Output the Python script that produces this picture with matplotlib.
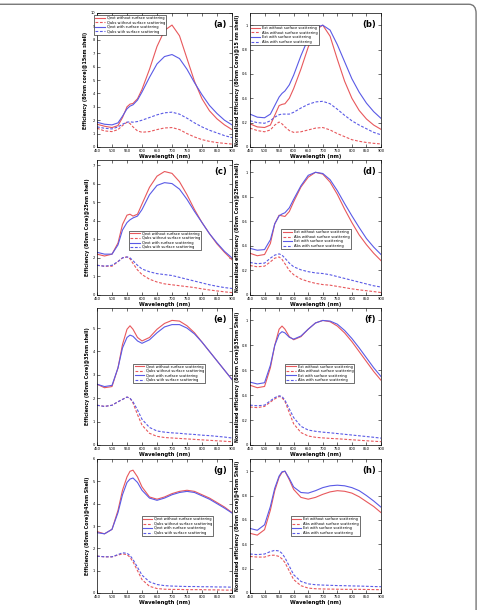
import numpy as np
import matplotlib
matplotlib.use("Agg")
import matplotlib.pyplot as plt
from matplotlib.patches import FancyBboxPatch

## DATA

wl = [450, 475, 500, 520, 535, 550, 560, 570, 585, 600, 625, 650, 675, 700,
      725, 750, 775, 800, 825, 850, 875, 900]

# (a) 80nm core @ 15nm shell
a_ext_wo = [1.7, 1.55, 1.45, 1.6, 2.2, 3.0, 3.2, 3.25, 3.6, 4.3, 5.8, 7.5, 8.7, 9.1,
            8.3, 6.6, 4.9, 3.6, 2.7, 2.1, 1.65, 1.3]
a_abs_wo = [1.4, 1.2, 1.15, 1.3, 1.6, 1.85, 1.75, 1.5, 1.2, 1.1, 1.15, 1.3, 1.42, 1.45,
            1.3, 1.0, 0.75, 0.55, 0.42, 0.33, 0.27, 0.22]
a_ext_w = [1.85, 1.7, 1.65, 1.8, 2.3, 2.85, 3.05, 3.15, 3.5, 4.1, 5.2, 6.2, 6.75, 6.9,
           6.6, 5.8, 4.8, 3.9, 3.1, 2.5, 2.0, 1.65]
a_abs_w = [1.5, 1.4, 1.35, 1.5, 1.7, 1.85, 1.88, 1.85, 1.9, 2.0, 2.2, 2.4, 2.55, 2.6,
           2.45, 2.15, 1.8, 1.5, 1.25, 1.05, 0.85, 0.7]

# (b) normalized, 15nm shell
b_ext_wo = [0.19, 0.165, 0.16, 0.18, 0.26, 0.34, 0.35, 0.355, 0.40, 0.48, 0.64, 0.82, 0.96, 1.0,
            0.91, 0.72, 0.54, 0.40, 0.30, 0.23, 0.18, 0.145]
b_abs_wo = [0.155, 0.135, 0.125, 0.14, 0.18, 0.205, 0.19, 0.165, 0.135, 0.12, 0.125, 0.14, 0.155, 0.16,
            0.14, 0.11, 0.085, 0.06, 0.047, 0.037, 0.03, 0.025]
b_ext_w = [0.27, 0.245, 0.24, 0.27, 0.34, 0.41, 0.44, 0.46, 0.51, 0.59, 0.75, 0.89, 0.98, 1.0,
           0.96, 0.84, 0.70, 0.56, 0.45, 0.36, 0.29, 0.235]
b_abs_w = [0.215, 0.2, 0.195, 0.215, 0.245, 0.265, 0.27, 0.27, 0.27, 0.285, 0.32, 0.35, 0.37, 0.375,
           0.355, 0.31, 0.26, 0.215, 0.18, 0.15, 0.12, 0.1]

# (c) 25nm shell
c_ext_wo = [2.2, 2.1, 2.2, 2.8, 3.8, 4.3, 4.35, 4.25, 4.35, 4.9, 5.8, 6.4, 6.65, 6.55,
            6.1, 5.4, 4.6, 3.9, 3.3, 2.75, 2.3, 1.9]
c_abs_wo = [1.6, 1.55, 1.55, 1.8, 2.0, 2.05, 1.95, 1.7, 1.35, 1.1, 0.85, 0.7, 0.6, 0.55,
            0.5, 0.45, 0.4, 0.33, 0.27, 0.22, 0.17, 0.13]
c_ext_w = [2.3, 2.2, 2.2, 2.7, 3.5, 3.9, 4.05, 4.15, 4.25, 4.6, 5.4, 5.9, 6.05, 6.0,
           5.7, 5.15, 4.5, 3.9, 3.3, 2.8, 2.35, 2.0]
c_abs_w = [1.6, 1.55, 1.6, 1.8, 2.0, 2.05, 2.0, 1.85, 1.6, 1.4, 1.25, 1.15, 1.1, 1.05,
           0.95, 0.85, 0.75, 0.65, 0.55, 0.47, 0.4, 0.35]

# (d) normalized, 25nm shell
d_ext_wo = [0.34, 0.32, 0.33, 0.42, 0.58, 0.65, 0.645, 0.64, 0.68, 0.76, 0.88, 0.96, 1.0, 0.985,
            0.92, 0.82, 0.70, 0.59, 0.49, 0.41, 0.34, 0.28]
d_abs_wo = [0.24, 0.23, 0.235, 0.27, 0.3, 0.31, 0.29, 0.255, 0.2, 0.165, 0.13, 0.11, 0.095, 0.085,
            0.08, 0.07, 0.06, 0.05, 0.042, 0.035, 0.028, 0.02]
d_ext_w = [0.38, 0.365, 0.37, 0.45, 0.58, 0.645, 0.66, 0.67, 0.71, 0.78, 0.89, 0.975, 1.0, 0.99,
           0.94, 0.85, 0.745, 0.645, 0.55, 0.46, 0.39, 0.33]
d_abs_w = [0.265, 0.255, 0.26, 0.3, 0.325, 0.335, 0.325, 0.3, 0.26, 0.23, 0.205, 0.19, 0.18, 0.175,
           0.165, 0.15, 0.135, 0.12, 0.105, 0.09, 0.075, 0.065]

# (e) 35nm shell
e_ext_wo = [2.6, 2.45, 2.5, 3.3, 4.3, 4.95, 5.1, 4.95, 4.6, 4.45, 4.6, 4.95, 5.2, 5.33,
            5.3, 5.1, 4.8, 4.4, 4.0, 3.6, 3.2, 2.8]
e_abs_wo = [1.7, 1.65, 1.7, 1.85, 1.95, 2.05, 2.0, 1.8, 1.3, 0.85, 0.5, 0.37, 0.32, 0.3,
            0.28, 0.26, 0.24, 0.22, 0.2, 0.18, 0.16, 0.14]
e_ext_w = [2.6, 2.5, 2.55, 3.3, 4.15, 4.6, 4.7, 4.65, 4.45, 4.35, 4.5, 4.8, 5.05, 5.15,
           5.15, 5.0, 4.75, 4.4, 4.0, 3.6, 3.2, 2.8]
e_abs_w = [1.7, 1.65, 1.7, 1.85, 1.95, 2.05, 2.0, 1.85, 1.5, 1.1, 0.75, 0.6, 0.55, 0.52,
           0.5, 0.47, 0.45, 0.42, 0.4, 0.37, 0.34, 0.3]

# (f) normalized, 35nm shell
f_ext_wo = [0.48, 0.46, 0.47, 0.62, 0.8, 0.93, 0.955, 0.93, 0.87, 0.845, 0.87, 0.93, 0.98, 1.0,
            0.99, 0.955, 0.9, 0.83, 0.75, 0.67, 0.59, 0.52]
f_abs_wo = [0.305, 0.3, 0.31, 0.345, 0.37, 0.39, 0.38, 0.35, 0.26, 0.17, 0.1, 0.072, 0.062, 0.057,
            0.053, 0.05, 0.046, 0.042, 0.038, 0.034, 0.03, 0.027]
f_ext_w = [0.505, 0.49, 0.5, 0.64, 0.8, 0.89, 0.91, 0.9, 0.865, 0.85, 0.875, 0.93, 0.98, 1.0,
           0.995, 0.97, 0.92, 0.855, 0.78, 0.70, 0.62, 0.55]
f_abs_w = [0.32, 0.315, 0.32, 0.355, 0.38, 0.395, 0.39, 0.36, 0.29, 0.22, 0.15, 0.12, 0.11, 0.103,
           0.098, 0.092, 0.086, 0.08, 0.074, 0.068, 0.062, 0.055]

# (g) 45nm shell
g_ext_wo = [2.75, 2.65, 2.85, 3.7, 4.6, 5.2, 5.45, 5.5, 5.2, 4.75, 4.3, 4.2, 4.3, 4.45,
            4.55, 4.6, 4.55, 4.4, 4.25, 4.05, 3.85, 3.6]
g_abs_wo = [1.65, 1.62, 1.62, 1.7, 1.75, 1.72, 1.6, 1.4, 1.0, 0.6, 0.3, 0.2, 0.17, 0.16,
            0.16, 0.15, 0.15, 0.15, 0.14, 0.14, 0.13, 0.13]
g_ext_w = [2.7, 2.65, 2.85, 3.6, 4.4, 4.95, 5.1, 5.15, 4.95, 4.6, 4.25, 4.15, 4.25, 4.4,
           4.5, 4.55, 4.5, 4.35, 4.2, 4.0, 3.8, 3.58]
g_abs_w = [1.65, 1.62, 1.62, 1.72, 1.8, 1.78, 1.68, 1.5, 1.15, 0.8, 0.5, 0.38, 0.33, 0.31,
           0.3, 0.29, 0.29, 0.28, 0.28, 0.27, 0.27, 0.26]

# (h) normalized, 45nm shell
h_ext_wo = [0.49, 0.475, 0.52, 0.68, 0.84, 0.95, 0.99, 1.0, 0.93, 0.85, 0.785, 0.77, 0.785, 0.81,
            0.83, 0.84, 0.835, 0.82, 0.79, 0.75, 0.71, 0.66]
h_abs_wo = [0.3, 0.295, 0.295, 0.31, 0.31, 0.3, 0.28, 0.25, 0.18, 0.11, 0.06, 0.04, 0.035, 0.033,
            0.032, 0.031, 0.03, 0.03, 0.03, 0.029, 0.028, 0.027]
h_ext_w = [0.53, 0.515, 0.56, 0.71, 0.86, 0.96, 0.995, 1.0, 0.94, 0.87, 0.825, 0.82, 0.84, 0.865,
           0.88, 0.885, 0.88, 0.865, 0.84, 0.8, 0.755, 0.705]
h_abs_w = [0.32, 0.315, 0.32, 0.34, 0.35, 0.345, 0.325, 0.29, 0.22, 0.15, 0.095, 0.075, 0.068, 0.065,
           0.063, 0.061, 0.06, 0.058, 0.057, 0.055, 0.053, 0.052]

q_labels = ["Qext without surface scattering", "Qabs without surface scattering",
            "Qext with surface scattering", "Qabs with surface scattering"]
n_labels = ["Ext without surface scattering", "Abs without surface scattering",
            "Ext with surface scattering", "Abs with surface scattering"]

ylabels = {
	"a": "Efficiency (80nm core)@15nm shell)",
	"b": "Normalized Efficiency (80nm Core)@15 nm shell)",
	"c": "Efficiency (80nm Core)@25nm shell)",
	"d": "Normalized efficiency (80nm Core)@25nm shell)",
	"e": "Efficiency (80nm Core)@35nm shell)",
	"f": "Normalized efficiency (80nm Core)@35nm Shell)",
	"g": "Efficiency (80nm Core)@45nm Shell)",
	"h": "Normalized efficiency (80nm Core)@45nm Shell)",
}

RED = "#e8585c"
BLUE = "#5a5ae6"

## PLOT

W, H = 478, 610

def _axes(fig, x0, y0, x1, y1):
	# pixel box (top-left origin) -> figure fraction
	return fig.add_axes([x0 / W, 1 - y1 / H, (x1 - x0) / W, (y1 - y0) / H])

def _panel(ax, tag, series, labels, ymax, yticks, leg_loc, leg_anchor):
	ext_wo, abs_wo, ext_w, abs_w = series
	ax.plot(wl, ext_wo, "-", color = RED, lw = 0.8, label = labels[0])
	ax.plot(wl, abs_wo, "--", color = RED, lw = 0.8, dashes = (2.5, 1.5), label = labels[1])
	ax.plot(wl, ext_w, "-", color = BLUE, lw = 0.8, label = labels[2])
	ax.plot(wl, abs_w, "--", color = BLUE, lw = 0.8, dashes = (2.5, 1.5), label = labels[3])

	ax.set_xlim(450, 900)
	ax.set_ylim(0, ymax)
	ax.set_xticks(np.arange(450, 901, 50))
	ax.set_yticks(yticks)
	ax.yaxis.set_major_formatter(lambda v, _: f"{v:g}")
	ax.tick_params(direction = "in", top = True, right = True, length = 2, width = 0.4,
		labelsize = 2.6, pad = 1.5)
	for s in ax.spines.values():
		s.set_linewidth(0.5)

	ax.set_xlabel("Wavelength (nm)", fontsize = 3.8, fontweight = "bold", labelpad = 1)
	ax.set_ylabel(ylabels[tag], fontsize = 3.4, fontweight = "bold", labelpad = 1.5)
	ax.text(0.96, 0.95, f"({tag})", transform = ax.transAxes, ha = "right", va = "top",
		fontsize = 6, fontweight = "bold")

	leg = ax.legend(loc = leg_loc, bbox_to_anchor = leg_anchor, fontsize = 2.6,
		frameon = True, fancybox = False, edgecolor = "black", framealpha = 1,
		handlelength = 2.6, handletextpad = 0.5, borderpad = 0.3, labelspacing = 0.15,
		borderaxespad = 0)
	leg.get_frame().set_linewidth(0.4)

if __name__ == "__main__":
	fig = plt.figure(figsize = (W / 100, H / 100), dpi = 100)

	L = (97, 232)
	R = (250, 381)
	rows = [(13, 147), (160, 295), (308, 445), (459, 593)]

	tick_eff_a = np.arange(0, 11, 1)
	tick_norm = [0, 0.2, 0.4, 0.6, 0.8, 1]

	ax = _axes(fig, L[0], rows[0][0], L[1], rows[0][1])
	_panel(ax, "a", (a_ext_wo, a_abs_wo, a_ext_w, a_abs_w), q_labels, 10, tick_eff_a,
		"upper left", (-0.02, 0.985))
	ax = _axes(fig, R[0], rows[0][0], R[1], rows[0][1])
	_panel(ax, "b", (b_ext_wo, b_abs_wo, b_ext_w, b_abs_w), n_labels, 1.1, tick_norm,
		"upper left", (0.0, 0.91))

	ax = _axes(fig, L[0], rows[1][0], L[1], rows[1][1])
	_panel(ax, "c", (c_ext_wo, c_abs_wo, c_ext_w, c_abs_w), q_labels, 7.27, np.arange(0, 8, 1),
		"lower left", (0.24, 0.33))
	ax = _axes(fig, R[0], rows[1][0], R[1], rows[1][1])
	_panel(ax, "d", (d_ext_wo, d_abs_wo, d_ext_w, d_abs_w), n_labels, 1.1, tick_norm,
		"lower left", (0.24, 0.34))

	ax = _axes(fig, L[0], rows[2][0], L[1], rows[2][1])
	_panel(ax, "e", (e_ext_wo, e_abs_wo, e_ext_w, e_abs_w), q_labels, 5.86, np.arange(0, 6, 1),
		"lower left", (0.27, 0.45))
	ax = _axes(fig, R[0], rows[2][0], R[1], rows[2][1])
	_panel(ax, "f", (f_ext_wo, f_abs_wo, f_ext_w, f_abs_w), n_labels, 1.1, tick_norm,
		"lower left", (0.27, 0.45))

	ax = _axes(fig, L[0], rows[3][0], L[1], rows[3][1])
	_panel(ax, "g", (g_ext_wo, g_abs_wo, g_ext_w, g_abs_w), q_labels, 6, np.arange(0, 7, 1),
		"lower left", (0.33, 0.425))
	ax = _axes(fig, R[0], rows[3][0], R[1], rows[3][1])
	_panel(ax, "h", (h_ext_wo, h_abs_wo, h_ext_w, h_abs_w), n_labels, 1.1, tick_norm,
		"lower left", (0.31, 0.425))

	# rounded grey frame around the figure
	frame = FancyBboxPatch((-0.05, -0.05), 1.046, 1.043, transform = fig.transFigure,
		boxstyle = "round,pad=0,rounding_size=0.015", facecolor = "none",
		edgecolor = "#777777", lw = 1.0)
	fig.patches.append(frame)

	fig.savefig("out.png", dpi = 100)
